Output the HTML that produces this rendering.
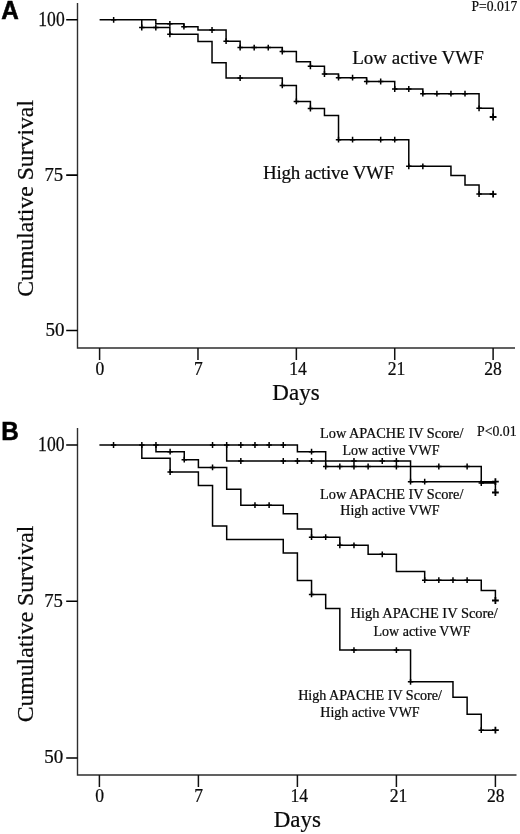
<!DOCTYPE html>
<html><head><meta charset="utf-8"><title>Cumulative survival by active VWF</title>
<style>
html,body{margin:0;padding:0;background:#fff}
svg{display:block;filter:grayscale(1)}
text{font-family:"Liberation Serif",serif;fill:#0a0a0a;stroke:#0a0a0a;stroke-width:.22px}
.s{font-family:"Liberation Sans",sans-serif;font-weight:bold;fill:#000;stroke:#000;stroke-width:.5px}
</style></head><body>
<svg width="520" height="834" viewBox="0 0 520 834">
<rect width="520" height="834" fill="#fff"/>
<g fill="none" stroke="#2e2e2e" stroke-width="1.4">
<path d="M77.5 3V348.05H515"/>
<path d="M77.5 428V775H516.5"/>
</g>
<path d="M99.6 347.9v12M197.98 347.9v12M296.36 347.9v12M394.73 347.9v12M493.11 347.9v12M99.4 775v12M198.4 775v12M297.4 775v12M396.4 775v12M495.4 775v12" fill="none" stroke="#111" stroke-width="1.5"/>
<path d="M66.2 19.7H77.5M66.2 175.1H77.5M66.2 330.4H77.5M66.2 445H77.5M66.2 601.3H77.5M66.2 757.9H77.5" fill="none" stroke="#000" stroke-width="1.55"/>
<g fill="none" stroke="#000" stroke-width="1.5" stroke-linejoin="miter">
<path d="M99.6 19.8H155.82V23.8H183.92V26.7H197.98V30H226.09V41.2H240.14V47.6H282.3V51.5H296.36V61.7H310.41V66.3H324.46V74H338.52V77.7H366.63V81.5H394.73V89H422.84V93.7H479.06V108.3H493.11V117H493.11M99.6 19.8H141.76V27.5H169.87V34.3H197.98V41.6H212.03V62.8H226.09V78H282.3V85.4H296.36V101.4H310.41V108.5H324.46V115.5H338.52V139.7H408.79V166.3H450.95V175.6H465V184.9H479.06V194.1H493.11"/>
<path d="M99.4 445H297.4V451.7H325.69V466.5H481.26V483H495.4V492.5H495.4M99.4 445H226.69V461H410.55V481.7H495.4M99.4 445H155.97V451.7H184.26V459.7H198.4V467.4H226.69V489.2H240.83V505.2H283.26V513.7H297.4V529H311.55V537.2H339.83V545.3H368.12V554.3H396.4V571.4H424.69V580.2H481.26V590.6H495.4V600.5H495.4M99.4 445H141.83V458.2H170.12V472H198.4V485.4H212.54V526H226.69V539.6H283.26V553H297.4V580.4H311.55V594.4H325.69V608.5H339.83V650.1H410.55V681.8H452.98V697.3H467.12V714.2H481.26V730.2H495.4"/>
</g>
<g fill="none" stroke="#000" stroke-width="1.5">
<path d="M113.65 16.9v5.8M110.95 19.8h5.4M169.87 20.9v5.8M167.17 23.8h5.4M183.92 23.8v5.8M181.22 26.7h5.4M212.03 27.1v5.8M209.33 30h5.4M226.09 38.3v5.8M223.39 41.2h5.4M240.14 44.7v5.8M237.44 47.6h5.4M254.19 44.7v5.8M251.49 47.6h5.4M268.25 44.7v5.8M265.55 47.6h5.4M282.3 48.6v5.8M279.6 51.5h5.4M310.41 63.4v5.8M307.71 66.3h5.4M324.46 71.1v5.8M321.76 74h5.4M338.52 74.8v5.8M335.82 77.7h5.4M352.57 74.8v5.8M349.87 77.7h5.4M366.63 78.6v5.8M363.93 81.5h5.4M380.68 78.6v5.8M377.98 81.5h5.4M394.73 86.1v5.8M392.03 89h5.4M408.79 86.1v5.8M406.09 89h5.4M422.84 90.8v5.8M420.14 93.7h5.4M436.9 90.8v5.8M434.2 93.7h5.4M450.95 90.8v5.8M448.25 93.7h5.4M465 90.8v5.8M462.3 93.7h5.4M479.06 105.4v5.8M476.36 108.3h5.4M141.76 24.6v5.8M139.06 27.5h5.4M155.82 24.6v5.8M153.12 27.5h5.4M169.87 31.4v5.8M167.17 34.3h5.4M240.14 75.1v5.8M237.44 78h5.4M282.3 82.5v5.8M279.6 85.4h5.4M296.36 98.5v5.8M293.66 101.4h5.4M310.41 105.6v5.8M307.71 108.5h5.4M338.52 136.8v5.8M335.82 139.7h5.4M352.57 136.8v5.8M349.87 139.7h5.4M380.68 136.8v5.8M377.98 139.7h5.4M394.73 136.8v5.8M392.03 139.7h5.4M408.79 163.4v5.8M406.09 166.3h5.4M422.84 163.4v5.8M420.14 166.3h5.4M479.06 191.2v5.8M476.36 194.1h5.4"/>
<path d="M113.54 442.1v5.8M110.84 445h5.4M141.83 442.1v5.8M139.13 445h5.4M155.97 442.1v5.8M153.27 445h5.4M212.54 442.1v5.8M209.84 445h5.4M226.69 442.1v5.8M223.99 445h5.4M240.83 442.1v5.8M238.13 445h5.4M254.97 442.1v5.8M252.27 445h5.4M269.12 442.1v5.8M266.42 445h5.4M283.26 442.1v5.8M280.56 445h5.4M311.55 448.8v5.8M308.85 451.7h5.4M325.69 463.6v5.8M322.99 466.5h5.4M339.83 463.6v5.8M337.13 466.5h5.4M353.97 463.6v5.8M351.27 466.5h5.4M368.12 463.6v5.8M365.42 466.5h5.4M396.4 463.6v5.8M393.7 466.5h5.4M438.83 463.6v5.8M436.13 466.5h5.4M467.12 463.6v5.8M464.42 466.5h5.4M481.26 480.1v5.8M478.56 483h5.4M240.83 458.1v5.8M238.13 461h5.4M283.26 458.1v5.8M280.56 461h5.4M297.4 458.1v5.8M294.7 461h5.4M311.55 458.1v5.8M308.85 461h5.4M353.97 458.1v5.8M351.27 461h5.4M382.26 458.1v5.8M379.56 461h5.4M396.4 458.1v5.8M393.7 461h5.4M410.55 478.8v5.8M407.85 481.7h5.4M424.69 478.8v5.8M421.99 481.7h5.4M170.12 448.8v5.8M167.42 451.7h5.4M184.26 456.8v5.8M181.56 459.7h5.4M212.54 464.5v5.8M209.84 467.4h5.4M254.97 502.3v5.8M252.27 505.2h5.4M269.12 502.3v5.8M266.42 505.2h5.4M311.55 534.3v5.8M308.85 537.2h5.4M325.69 534.3v5.8M322.99 537.2h5.4M339.83 542.4v5.8M337.13 545.3h5.4M353.97 542.4v5.8M351.27 545.3h5.4M382.26 551.4v5.8M379.56 554.3h5.4M424.69 577.3v5.8M421.99 580.2h5.4M438.83 577.3v5.8M436.13 580.2h5.4M452.98 577.3v5.8M450.28 580.2h5.4M467.12 577.3v5.8M464.42 580.2h5.4M170.12 469.1v5.8M167.42 472h5.4M311.55 591.5v5.8M308.85 594.4h5.4M353.97 647.2v5.8M351.27 650.1h5.4M396.4 647.2v5.8M393.7 650.1h5.4M410.55 678.9v5.8M407.85 681.8h5.4M481.26 727.3v5.8M478.56 730.2h5.4"/>
</g>
<g fill="none" stroke="#000" stroke-width="1.8">
<path d="M489.71 117h6.8M493.11 113.6v6.8M489.71 194.1h6.8M493.11 190.7v6.8"/>
<path d="M492 492.5h6.8M495.4 489.1v6.8M492 481.7h6.8M495.4 478.3v6.8M492 600.5h6.8M495.4 597.1v6.8M492 730.2h6.8M495.4 726.8v6.8"/>
</g>
<text class="s" transform="translate(1.2 18.9) scale(1 1.06)" font-size="24.3">A</text>
<text class="s" transform="translate(1.2 440.1) scale(1 1.06)" font-size="24.3">B</text>
<text font-size="23.7" text-anchor="middle" transform="translate(33.4 198.4) rotate(-90)">Cumulative Survival</text>
<text font-size="23.7" text-anchor="middle" transform="translate(32.5 624) rotate(-90)">Cumulative Survival</text>
<text transform="translate(64.7 25.6) scale(1 1.18)" font-size="17.6" text-anchor="end">100</text>
<text transform="translate(63.2 180.7) scale(1 1.04)" font-size="18.8" text-anchor="end">75</text>
<text transform="translate(64.4 335.8) scale(1 1.02)" font-size="19" text-anchor="end">50</text>
<text transform="translate(99.9 375.2) scale(1 1.13)" font-size="17.6" text-anchor="middle">0</text>
<text transform="translate(198.28 375.2) scale(1 1.13)" font-size="17.6" text-anchor="middle">7</text>
<text transform="translate(298.06 375.2) scale(1 1.13)" font-size="17.6" text-anchor="middle">14</text>
<text transform="translate(396.43 375.2) scale(1 1.13)" font-size="17.6" text-anchor="middle">21</text>
<text transform="translate(493.11 375.2) scale(1 1.13)" font-size="17.6" text-anchor="middle">28</text>
<text x="296" y="399.5" font-size="23" text-anchor="middle">Days</text>
<text x="352.2" y="63.8" font-size="19" text-anchor="start">Low active VWF</text>
<text x="263" y="179.4" font-size="19" text-anchor="start" letter-spacing="-0.24">High active VWF</text>
<text transform="translate(517.3 11) scale(1 1.08)" font-size="13.6" text-anchor="end">P=0.017</text>
<text transform="translate(64.5 450.8) scale(1 1.14)" font-size="17.6" text-anchor="end">100</text>
<text transform="translate(63 606.8) scale(1 1.04)" font-size="18.8" text-anchor="end">75</text>
<text transform="translate(63.3 762.8) scale(1 1.02)" font-size="19" text-anchor="end">50</text>
<text transform="translate(99.7 802.3) scale(1 1.1)" font-size="17.6" text-anchor="middle">0</text>
<text transform="translate(198.7 802.3) scale(1 1.1)" font-size="17.6" text-anchor="middle">7</text>
<text transform="translate(299.3 802.3) scale(1 1.1)" font-size="17.6" text-anchor="middle">14</text>
<text transform="translate(398.6 802.3) scale(1 1.1)" font-size="17.6" text-anchor="middle">21</text>
<text transform="translate(495.7 802.3) scale(1 1.1)" font-size="17.6" text-anchor="middle">28</text>
<text x="297.3" y="826.5" font-size="23" text-anchor="middle">Days</text>
<text x="391.7" y="437.8" font-size="14.3" text-anchor="middle">Low APACHE IV Score/</text>
<text x="391" y="455.2" font-size="14" text-anchor="middle">Low active VWF</text>
<text x="391.7" y="499" font-size="14.3" text-anchor="middle">Low APACHE IV Score/</text>
<text x="390" y="514.5" font-size="14" text-anchor="middle">High active VWF</text>
<text x="424.2" y="618.4" font-size="14.45" text-anchor="middle">High APACHE IV Score/</text>
<text x="422" y="636.1" font-size="14" text-anchor="middle">Low active VWF</text>
<text x="370" y="700.2" font-size="14.1" text-anchor="middle">High APACHE IV Score/</text>
<text x="370" y="717.1" font-size="14" text-anchor="middle">High active VWF</text>
<text transform="translate(516.6 435.5) scale(1 1.05)" font-size="13.8" text-anchor="end">P&lt;0.01</text>
</svg>
</body></html>
